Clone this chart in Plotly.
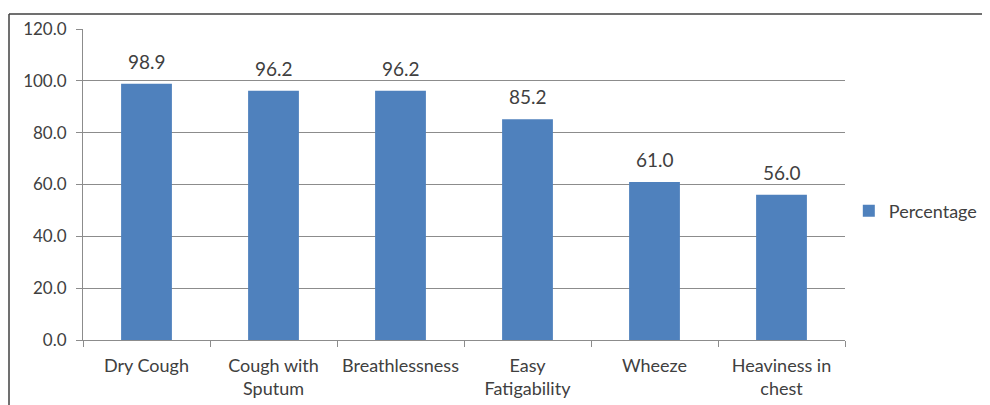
import plotly.graph_objects as go

categories = ["Dry Cough", "Cough with<br>Sputum", "Breathlessness", "Easy<br>Fatigability", "Wheeze", "Heaviness in<br>chest"]
percentage = [98.9, 96.2, 96.2, 85.2, 61.0, 56.0]
y_ticks = [0, 20, 40, 60, 80, 100, 120]

FONT = "Lato, 'Open Sans', sans-serif"
TXT = "#404040"
fig = go.Figure()
fig.add_trace(go.Bar(
    x=categories, y=percentage, name="Percentage",
    marker=dict(color="#4F81BD", line=dict(width=0)),
))
for c, v in zip(categories, percentage):
    fig.add_annotation(x=c, y=v, text=f"{v:.1f}", showarrow=False,
                       yanchor="bottom", yshift=9,
                       font=dict(size=19, color=TXT, family=FONT))

fig.update_layout(
    width=982, height=397,
    margin=dict(l=75, r=145, t=21, b=65, autoexpand=False),
    paper_bgcolor="white", plot_bgcolor="white",
    bargap=0.6,
    showlegend=True,
    legend=dict(x=1.005, y=0.415, xanchor="left", yanchor="middle",
                font=dict(size=18, color=TXT, family=FONT),
                bgcolor="rgba(0,0,0,0)"),
    font=dict(family=FONT, color=TXT),
)
fig.update_xaxes(
    showline=True, linecolor="#8c8c8c", linewidth=1,
    ticks="outside", tickson="boundaries", ticklen=6, tickcolor="#8c8c8c",
    tickfont=dict(size=18, color=TXT, family=FONT),
    tickangle=0, ticklabelstandoff=9,
    showgrid=False,
)
fig.update_yaxes(
    range=[0, 120], tickvals=y_ticks, tickformat=".1f",
    showline=True, linecolor="#8c8c8c", linewidth=1,
    ticks="outside", ticklen=6, tickcolor="#8c8c8c",
    gridcolor="#8c8c8c", gridwidth=1,
    tickfont=dict(size=17, color=TXT, family=FONT),
    ticklabelstandoff=6,
    zeroline=False,
)
# outer frame (left and top border of the picture)
fig.add_shape(type="line", xref="paper", yref="paper",
              x0=-74/762, x1=1.3, y0=1 + 15/311, y1=1 + 15/311,
              line=dict(color="#404040", width=1.5))
fig.add_shape(type="line", xref="paper", yref="paper",
              x0=-74/762, x1=-74/762, y0=1 + 15/311, y1=-0.3,
              line=dict(color="#404040", width=1.5))

fig.write_html("out.html")
